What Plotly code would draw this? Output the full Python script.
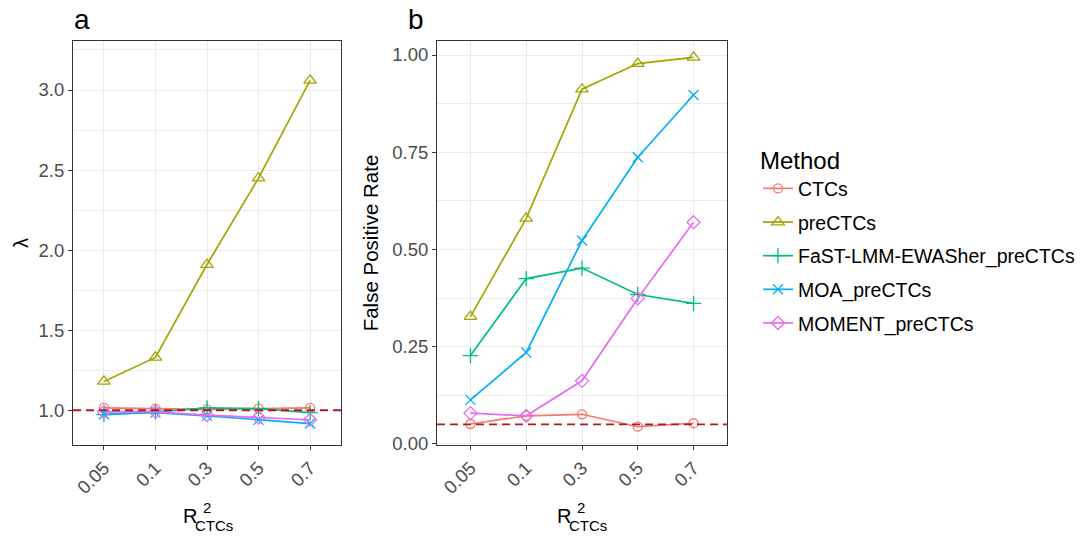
import plotly.graph_objects as go

W, H = 1090, 537

r2_labels = ["0.05", "0.1", "0.3", "0.5", "0.7"]
methods = ["CTCs", "preCTCs", "FaST-LMM-EWASher_preCTCs", "MOA_preCTCs", "MOMENT_preCTCs"]

# panel a: lambda
lam_ctcs = [1.015, 1.01, 1.006, 1.01, 1.015]
lam_pre = [1.18, 1.33, 1.91, 2.45, 3.06]
lam_fast = [0.973, 0.99, 1.015, 1.01, 0.985]
lam_moa = [0.975, 0.985, 0.965, 0.94, 0.917]
lam_moment = [0.99, 0.99, 0.97, 0.955, 0.94]

# panel b: false positive rate
fpr_ctcs = [0.051, 0.072, 0.076, 0.044, 0.053]
fpr_pre = [0.327, 0.58, 0.912, 0.978, 0.994]
fpr_fast = [0.227, 0.425, 0.452, 0.384, 0.361]
fpr_moa = [0.113, 0.235, 0.523, 0.737, 0.897]
fpr_moment = [0.079, 0.072, 0.162, 0.374, 0.57]

lam_ref = 1.0
fpr_ref = 0.05

colors = ["#F8766D", "#A3A500", "#00BF7D", "#00B0F6", "#E76BF3"]
symbols = ["circle-open", "triangle-up-open", "cross-thin-open", "x-thin-open", "diamond-open"]
sizes = [9, 11, 11, 10, 10]

lam_data = [lam_ctcs, lam_pre, lam_fast, lam_moa, lam_moment]
fpr_data = [fpr_ctcs, fpr_pre, fpr_fast, fpr_moa, fpr_moment]

FONT = "Liberation Sans, Arial, sans-serif"

fig = go.Figure()
for i, m in enumerate(methods):
    fig.add_trace(go.Scatter(
        x=r2_labels, y=lam_data[i], mode="lines+markers", name=m,
        line=dict(color=colors[i], width=1.7),
        marker=dict(symbol=symbols[i], size=sizes[i], color=colors[i],
                    line=dict(color=colors[i], width=1.3)),
        xaxis="x", yaxis="y", showlegend=False, legendgroup=m))
for i, m in enumerate(methods):
    fig.add_trace(go.Scatter(
        x=r2_labels, y=fpr_data[i], mode="lines+markers", name=m,
        line=dict(color=colors[i], width=1.7),
        marker=dict(symbol=symbols[i], size=sizes[i], color=colors[i],
                    line=dict(color=colors[i], width=1.3)),
        xaxis="x2", yaxis="y2", showlegend=True, legendgroup=m))

ydom = [1 - 445 / H, 1 - 41 / H]
tickfont = dict(family=FONT, size=18.5, color="#4D4D4D")
common_x = dict(type="category", range=[-0.6, 4.6], tickangle=-45, tickfont=tickfont,
                showgrid=True, gridcolor="#EBEBEB", gridwidth=1.2, automargin=False,
                showline=True, mirror=True, linecolor="#333333", linewidth=1,
                ticks="outside", ticklen=4, tickcolor="#333333", zeroline=False)
common_y = dict(tickfont=tickfont, showgrid=True, gridcolor="#EBEBEB", gridwidth=1.2,
                showline=True, mirror=True, linecolor="#333333", linewidth=1, automargin=False,
                ticks="outside", ticklen=4, tickcolor="#333333", zeroline=False)

fig.update_layout(
    width=W, height=H, margin=dict(l=0, r=0, t=0, b=0, autoexpand=False),
    plot_bgcolor="white", paper_bgcolor="white",
    font=dict(family=FONT, color="black"),
    xaxis=dict(domain=[73 / W, 341 / W], anchor="y", **common_x),
    yaxis=dict(domain=ydom, anchor="x", range=[0.783, 3.306],
               tickvals=[1.0, 1.5, 2.0, 2.5, 3.0], ticktext=["1.0", "1.5", "2.0", "2.5", "3.0"],
               minor=dict(tickvals=[1.25, 1.75, 2.25, 2.75, 3.25], showgrid=True,
                          gridcolor="#EBEBEB", gridwidth=0.7, ticks=""),
               title=dict(text="λ", font=dict(family=FONT, size=20, color="black"), standoff=4),
               **common_y),
    xaxis2=dict(domain=[437 / W, 727 / W], anchor="y2", **common_x),
    yaxis2=dict(domain=ydom, anchor="x2", range=[-0.003, 1.036],
                tickvals=[0, 0.25, 0.5, 0.75, 1.0], ticktext=["0.00", "0.25", "0.50", "0.75", "1.00"],
                minor=dict(tickvals=[0.125, 0.375, 0.625, 0.875], showgrid=True,
                           gridcolor="#EBEBEB", gridwidth=0.7, ticks=""),
                title=dict(text="False Positive Rate", font=dict(family=FONT, size=20.5, color="black"),
                           standoff=8),
                **common_y),
    legend=dict(x=758 / W, y=1 - 138 / H, xanchor="left", yanchor="top",
                title=dict(text="Method", font=dict(family=FONT, size=24, color="black")),
                font=dict(family=FONT, size=19.5, color="black"),
                tracegroupgap=5.3, bgcolor="rgba(0,0,0,0)"),
    shapes=[
        dict(type="line", xref="x domain", yref="y", x0=0, x1=1, y0=lam_ref, y1=lam_ref,
             line=dict(color="#B01C1C", width=1.8, dash="8px,5px"), layer="above"),
        dict(type="line", xref="x2 domain", yref="y2", x0=0, x1=1, y0=fpr_ref, y1=fpr_ref,
             line=dict(color="#B01C1C", width=1.8, dash="8px,5px"), layer="above"),
    ],
)

ann = []
# panel letters
ann.append(dict(text="a", x=72 / W, y=1 - 20 / H, xref="paper", yref="paper",
                xanchor="left", yanchor="middle", showarrow=False,
                font=dict(family=FONT, size=28, color="black")))
ann.append(dict(text="b", x=406 / W, y=1 - 20 / H, xref="paper", yref="paper",
                xanchor="left", yanchor="middle", showarrow=False,
                font=dict(family=FONT, size=28, color="black")))
# x titles R^2_CTCs (stacked super/subscript)
for rl in (181, 555):
    ann.append(dict(text="R", x=rl / W, y=1 - 516 / H, xref="paper", yref="paper",
                    xanchor="left", yanchor="middle", showarrow=False,
                    font=dict(family=FONT, size=20, color="black")))
    ann.append(dict(text="2", x=(rl + 20) / W, y=1 - 507 / H, xref="paper", yref="paper",
                    xanchor="left", yanchor="middle", showarrow=False,
                    font=dict(family=FONT, size=15, color="black")))
    ann.append(dict(text="CTCs", x=(rl + 12) / W, y=1 - 525 / H, xref="paper", yref="paper",
                    xanchor="left", yanchor="middle", showarrow=False,
                    font=dict(family=FONT, size=15, color="black")))
fig.update_layout(annotations=ann)

fig.write_html("out.html")
